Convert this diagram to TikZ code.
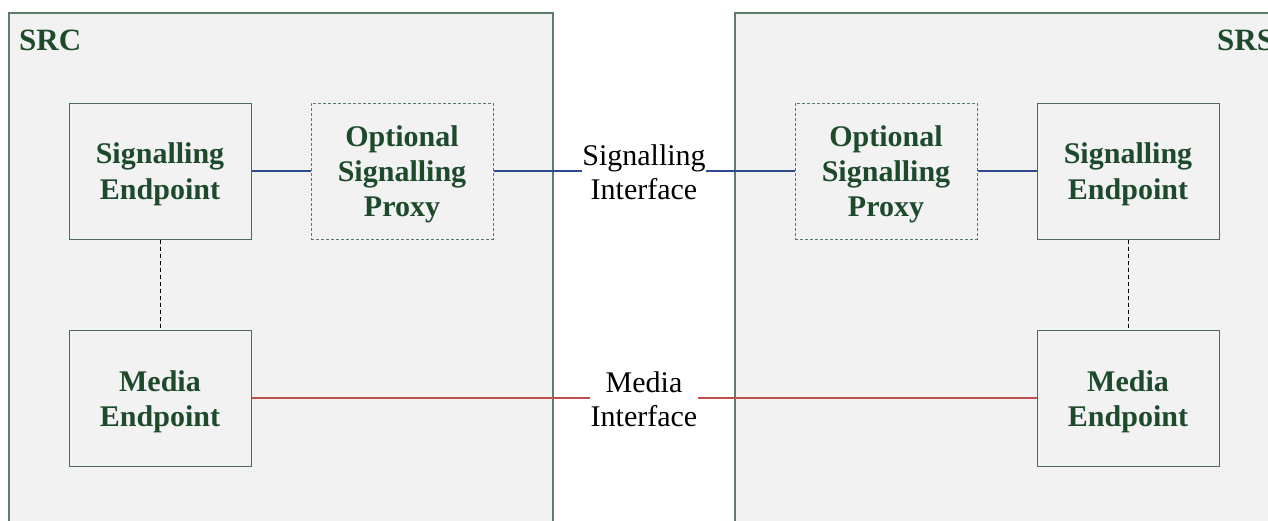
\documentclass[tikz,border=0pt]{standalone}
\usepackage{fontspec}
\setmainfont{Liberation Serif}
\newcommand{\lnstrut}{\rule[-6.5pt]{0pt}{34.5pt}}
\begin{document}
\begin{tikzpicture}[x=1pt,y=-1pt,
  outerbox/.style={draw=outline,fill=boxfill,line width=1.2pt},
  epbox/.style={draw=inneredge,line width=1pt,minimum width=182pt,minimum height=136pt,
     align=center,text=darkgreen,font=\fontsize{30}{34.5}\selectfont\bfseries,inner sep=0pt},
  proxybox/.style={epbox,dashed,dash pattern=on 3pt off 2pt,draw=dashedge},
  iflabel/.style={align=center,text=black,font=\fontsize{30}{34.5}\selectfont,inner sep=0.5pt},
  sigline/.style={draw=sigblue,line width=2.2pt},
  medline/.style={draw=medred,line width=2.2pt},
  vlink/.style={draw=black,line width=0.8pt,dashed,dash pattern=on 4pt off 3pt},
  grouplabel/.style={text=darkgreen,font=\fontsize{31}{34.5}\selectfont\bfseries,inner sep=0pt}
]
\definecolor{outline}{HTML}{5E7D68}
\definecolor{boxfill}{HTML}{F2F2F2}
\definecolor{inneredge}{HTML}{4E6B57}
\definecolor{dashedge}{HTML}{5A7A64}
\definecolor{darkgreen}{HTML}{1E4A2C}
\definecolor{sigblue}{HTML}{2C4A8C}
\definecolor{medred}{HTML}{C0504D}
\useasboundingbox (0,0) rectangle (1268,520);
\fill[white] (0,0) rectangle (1268,520);
% group boxes
\draw[outerbox] (9,13) rectangle (553,540);
\draw[outerbox] (735,13) rectangle (1290,540);
\node[grouplabel,anchor=base west] (src) at (19,50) {SRC};
\node[grouplabel,anchor=base west] (srs) at (1217,50) {SRS};
% nodes
\node[epbox] (sel) at (160,171) {\lnstrut Signalling\\\lnstrut Endpoint};
\node[proxybox] (pl) at (402,171) {\lnstrut Optional\\\lnstrut Signalling\\\lnstrut Proxy};
\node[proxybox] (pr) at (886,171) {\lnstrut Optional\\\lnstrut Signalling\\\lnstrut Proxy};
\node[epbox] (ser) at (1128,171) {\lnstrut Signalling\\\lnstrut Endpoint};
\node[epbox] (mel) at (160,398) {\lnstrut Media\\\lnstrut Endpoint};
\node[epbox] (mer) at (1128,398) {\lnstrut Media\\\lnstrut Endpoint};
\node[iflabel] (sif) at (644,172) {Signalling\\Interface};
\node[iflabel] (mif) at (644,399) {Media\\Interface};
% connectors
\draw[sigline] (sel.east) -- (pl.west);
\draw[sigline] (pl.east) -- (sif.west |- pl.east);
\draw[sigline] (sif.east |- pr.west) -- (pr.west);
\draw[sigline] (pr.east) -- (ser.west);
\draw[medline] (mel.east) -- (mif.west |- mel.east);
\draw[medline] (mif.east |- mer.west) -- (mer.west);
\draw[vlink] (sel.south) -- (mel.north);
\draw[vlink] (ser.south) -- (mer.north);
\end{tikzpicture}
\end{document}
